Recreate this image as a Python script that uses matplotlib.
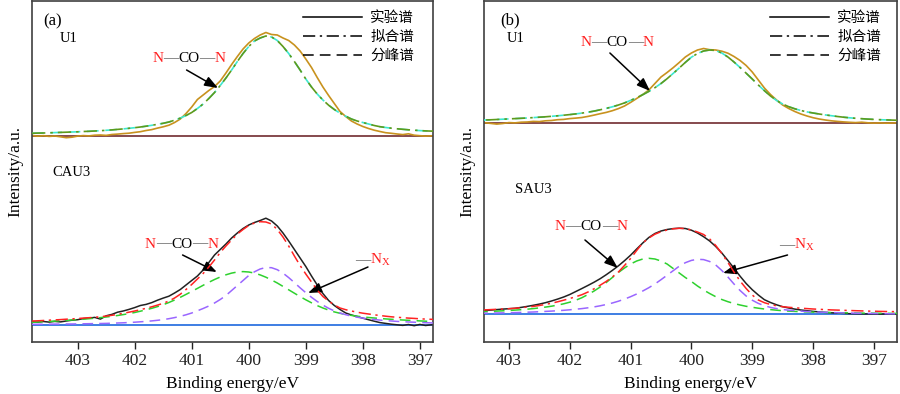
import matplotlib
matplotlib.use("Agg")
import matplotlib.pyplot as plt
from matplotlib.lines import Line2D
from matplotlib.offsetbox import TextArea, HPacker, AnnotationBbox

# ---------------- data ----------------
energy = [403.8, 403.7, 403.6, 403.5, 403.4, 403.3, 403.2, 403.1, 403.0, 402.9,
          402.8, 402.7, 402.6, 402.5, 402.4, 402.3, 402.2, 402.1, 402.0, 401.9,
          401.8, 401.7, 401.6, 401.5, 401.4, 401.3, 401.2, 401.1, 401.0, 400.9,
          400.8, 400.7, 400.6, 400.5, 400.4, 400.3, 400.2, 400.1, 400.0, 399.9,
          399.8, 399.7, 399.6, 399.5, 399.4, 399.3, 399.2, 399.1, 399.0, 398.9,
          398.8, 398.7, 398.6, 398.5, 398.4, 398.3, 398.2, 398.1, 398.0, 397.9,
          397.8, 397.7, 397.6, 397.5, 397.4, 397.3, 397.2, 397.1, 397.0, 396.9,
          396.8, 396.7, 396.6]

# panel (a): U1 (upper) and CAU3 (lower)
a_u1_exp = [206.5, 205.8, 206.3, 205.6, 206.0, 205.2, 204.3, 204.8, 205.9, 206.4,
            206.1, 206.8, 207.0, 206.6, 207.5, 207.9, 208.4, 208.8, 209.6, 210.3,
            211.5, 212.4, 213.9, 215.2, 216.8, 219.5, 223.0, 228.5, 235.0, 242.5,
            247.0, 251.5, 255.5, 261.0, 269.0, 277.5, 285.5, 293.0, 299.0, 303.5,
            307.0, 309.5, 307.5, 307.0, 304.0, 301.5, 297.0, 291.0, 283.0, 274.5,
            264.5, 255.0, 246.5, 238.5, 230.5, 225.5, 221.0, 218.0, 215.5, 213.5,
            211.8, 210.5, 209.3, 208.7, 208.0, 207.4, 208.2, 206.8, 206.3, 205.9,
            206.2, 206.0, 206.1]
a_u1_fit = [208.7, 208.9, 209.0, 209.2, 209.4, 209.6, 209.8, 210.0, 210.2, 210.5,
            210.7, 211.0, 211.3, 211.7, 212.1, 212.6, 213.1, 213.7, 214.3, 215.0,
            215.8, 216.7, 217.7, 218.7, 220.0, 221.8, 223.9, 226.5, 229.5, 233.5,
            238.0, 243.5, 249.5, 256.5, 264.0, 272.0, 280.5, 288.5, 295.5, 301.0,
            304.0, 306.0, 305.0, 301.5, 295.5, 288.5, 280.5, 272.0, 263.0, 255.0,
            248.0, 242.0, 236.8, 232.5, 228.8, 225.8, 223.0, 221.0, 219.5, 218.0,
            216.5, 215.3, 214.5, 213.8, 213.2, 212.7, 212.2, 211.8, 211.4, 211.1,
            210.9, 210.7, 210.5]
a_cau_exp = [20.3, 19.8, 20.5, 19.9, 20.6, 20.1, 21.0, 21.8, 22.3, 23.4,
             23.9, 24.6, 22.9, 26.2, 27.6, 29.8, 31.0, 32.6, 34.4, 36.5,
             37.6, 39.4, 41.8, 43.9, 45.8, 49.0, 52.5, 57.0, 61.5, 66.0,
             72.0, 79.5, 87.0, 92.5, 98.0, 104.0, 109.0, 113.5, 117.0, 119.5,
             121.5, 123.8, 121.0, 116.0, 109.0, 101.0, 92.5, 84.0, 75.5, 66.0,
             57.0, 48.5, 41.5, 36.5, 32.5, 29.0, 27.0, 25.5, 23.8, 22.3,
             20.8, 19.4, 18.6, 17.8, 17.2, 16.6, 17.5, 16.3, 17.6, 16.5,
             17.2, 17.0, 17.0]
a_cau_fit = [21.0, 21.2, 21.5, 21.8, 22.1, 22.4, 22.8, 23.1, 23.5, 23.9,
             24.3, 24.7, 25.3, 25.9, 26.7, 27.6, 28.7, 29.8, 31.0, 32.3,
             33.7, 35.2, 36.9, 38.7, 41.0, 44.0, 47.8, 52.5, 57.5, 63.0,
             68.5, 75.0, 82.0, 89.5, 96.0, 102.0, 108.0, 112.5, 116.5, 119.0,
             120.3, 120.0, 118.0, 112.5, 105.0, 96.0, 86.0, 76.5, 68.0, 60.0,
             52.0, 45.5, 41.0, 37.0, 34.0, 32.3, 31.0, 29.8, 28.8, 28.0,
             27.2, 26.5, 25.8, 25.2, 24.7, 24.3, 23.9, 23.6, 23.2, 22.9,
             22.7, 22.5, 22.3]
a_peak_nco = [19.7, 20.0, 20.3, 20.6, 20.9, 21.2, 21.6, 22.0, 22.4, 22.8,
              23.3, 23.8, 24.4, 25.0, 25.7, 26.5, 27.4, 28.4, 29.5, 30.8,
              32.2, 33.7, 35.4, 37.3, 39.5, 42.0, 44.7, 47.6, 50.6, 53.6,
              56.7, 59.7, 62.5, 65.0, 67.2, 68.9, 70.0, 70.4, 70.0, 68.9,
              67.1, 64.8, 62.0, 59.0, 55.6, 52.2, 48.8, 45.4, 42.2, 39.2,
              36.4, 34.0, 31.9, 30.1, 28.7, 27.5, 26.6, 25.8, 25.1, 24.5,
              24.0, 23.5, 23.1, 22.7, 22.3, 22.0, 21.7, 21.4, 21.1, 20.8,
              20.6, 20.4, 20.2]
a_peak_nx = [17.7, 17.7, 17.8, 17.8, 17.9, 17.9, 18.0, 18.0, 18.1, 18.2,
             18.3, 18.4, 18.5, 18.6, 18.8, 19.0, 19.2, 19.5, 19.8, 20.2,
             20.6, 21.1, 21.7, 22.4, 23.3, 24.4, 25.7, 27.2, 29.0, 31.2,
             33.5, 36.0, 39.0, 42.5, 46.5, 51.5, 56.5, 61.5, 66.5, 70.2,
             73.0, 74.5, 74.3, 72.3, 68.9, 64.4, 59.4, 54.2, 49.3, 44.7,
             40.5, 36.9, 33.7, 31.1, 29.0, 27.3, 25.9, 24.8, 23.9, 23.1,
             22.5, 21.9, 21.4, 21.0, 20.6, 20.3, 20.0, 19.8, 19.5, 19.3,
             19.1, 18.9, 18.8]
a_baselines = [206.0, 17.0]

# panel (b): U1 (upper) and SAU3 (lower)
b_u1_exp = [219.2, 218.8, 219.4, 219.0, 219.3, 218.6, 217.9, 218.5, 219.4, 219.1,
            219.8, 220.0, 220.6, 220.4, 221.2, 221.5, 222.3, 222.6, 223.4, 223.9,
            224.5, 225.6, 226.9, 228.3, 229.6, 231.3, 233.4, 236.0, 239.6, 243.5,
            247.5, 252.0, 258.5, 265.0, 269.5, 274.3, 279.5, 285.0, 289.0, 292.0,
            293.5, 292.3, 292.0, 290.8, 288.8, 285.5, 281.5, 276.5, 270.0, 262.0,
            254.0, 247.5, 242.0, 237.0, 233.5, 230.5, 228.0, 226.0, 224.3, 223.0,
            222.0, 221.2, 220.6, 220.1, 219.7, 219.4, 219.8, 219.2, 218.9, 219.1,
            218.8, 219.0, 219.2]
b_u1_fit = [221.0, 221.2, 221.5, 221.7, 222.0, 222.2, 222.5, 222.8, 223.1, 223.4,
            223.7, 224.0, 224.4, 224.8, 225.2, 225.7, 226.2, 226.8, 227.4, 228.1,
            228.9, 229.8, 230.9, 232.2, 233.6, 235.2, 237.0, 239.1, 241.6, 244.3,
            247.3, 250.6, 254.3, 258.5, 263.3, 268.6, 274.0, 279.6, 284.8, 288.5,
            291.0, 292.0, 291.5, 289.0, 285.0, 280.0, 274.5, 268.8, 263.0, 257.0,
            251.3, 246.0, 241.5, 238.0, 235.3, 233.2, 231.5, 230.1, 229.0, 228.0,
            227.1, 226.3, 225.5, 224.8, 224.2, 223.7, 223.3, 222.9, 222.6, 222.3,
            222.1, 221.9, 221.7]
b_sau_exp = [30.2, 30.5, 30.8, 31.1, 31.4, 31.9, 32.4, 32.9, 33.3, 33.7,
             34.6, 35.6, 36.7, 37.9, 39.3, 41.0, 42.9, 45.0, 47.5, 50.5,
             53.5, 56.6, 59.8, 63.3, 67.3, 71.6, 76.2, 81.3, 86.8, 93.0,
             99.0, 104.5, 108.5, 111.0, 112.5, 113.4, 113.8, 113.5, 111.8, 109.0,
             105.3, 101.0, 95.5, 89.0, 81.5, 73.8, 65.8, 58.5, 52.3, 47.0,
             42.3, 39.5, 37.2, 35.3, 34.0, 32.9, 32.0, 31.3, 30.6, 30.1,
             29.6, 29.2, 28.9, 28.6, 28.3, 28.2, 28.1, 28.0, 28.0, 27.9,
             27.9, 27.9, 27.8]
b_sau_fit = [31.3, 31.5, 31.7, 31.9, 32.1, 32.4, 32.7, 33.0, 33.3, 33.7,
             34.3, 34.9, 35.6, 36.5, 37.6, 38.8, 40.2, 41.8, 43.5, 45.3,
             47.3, 50.0, 53.2, 56.8, 60.6, 65.0, 70.0, 76.5, 83.5, 91.5,
             99.0, 104.0, 107.8, 110.3, 112.0, 113.2, 113.7, 113.4, 112.0, 110.0,
             107.5, 103.0, 96.5, 88.5, 79.5, 70.0, 61.0, 53.5, 47.0, 42.0,
             39.3, 37.5, 36.2, 35.3, 34.7, 34.2, 33.8, 33.4, 33.0, 32.7,
             32.4, 32.1, 31.9, 31.7, 31.5, 31.3, 31.1, 30.9, 30.8, 30.6,
             30.5, 30.4, 30.3]
b_peak_nco = [29.6, 29.8, 30.0, 30.2, 30.4, 30.6, 30.9, 31.2, 31.5, 31.9,
              32.3, 32.8, 33.4, 34.1, 34.9, 35.8, 36.9, 38.2, 39.8, 41.8,
              44.3, 47.5, 51.0, 55.0, 59.5, 64.5, 69.5, 74.0, 78.0, 81.0,
              83.0, 83.7, 83.0, 81.0, 78.0, 73.5, 69.0, 64.5, 60.5, 56.0,
              52.0, 48.5, 45.3, 42.5, 40.3, 38.5, 37.0, 35.7, 34.7, 33.8,
              33.0, 32.4, 31.8, 31.3, 30.9, 30.6, 30.3, 30.1, 29.9, 29.7,
              29.5, 29.4, 29.3, 29.2, 29.1, 29.0, 28.9, 28.8, 28.8, 28.7,
              28.7, 28.6, 28.6]
b_peak_nx = [28.5, 28.5, 28.6, 28.7, 28.8, 28.9, 29.0, 29.1, 29.2, 29.4,
             29.6, 29.8, 30.0, 30.3, 30.6, 30.9, 31.3, 31.7, 32.2, 32.8,
             33.4, 34.2, 35.1, 36.2, 37.5, 39.0, 40.8, 42.9, 45.3, 48.0,
             51.0, 54.3, 58.0, 62.3, 66.8, 71.3, 75.8, 79.3, 81.6, 82.7,
             82.4, 80.5, 77.0, 71.5, 65.0, 58.0, 51.5, 46.0, 41.8, 38.6,
             36.3, 34.6, 33.4, 32.5, 31.8, 31.3, 30.9, 30.5, 30.2, 29.9,
             29.7, 29.5, 29.3, 29.1, 29.0, 28.8, 28.7, 28.6, 28.5, 28.4,
             28.3, 28.2, 28.1]
b_baselines = [219.0, 27.7]

xticks = [403, 402, 401, 400, 399, 398, 397]
legend_labels = ["实验谱", "拟合谱", "分峰谱"]

# ---------------- style ----------------
plt.rcParams["font.family"] = ["Liberation Serif", "Noto Sans CJK SC"]
plt.rcParams["mathtext.fontset"] = "custom"
plt.rcParams["mathtext.rm"] = "Liberation Serif"

C_U1 = "#c8921e"
C_FIT_U1 = "#5e9a1c"
C_COMP_U1 = "#3de8cf"
C_BASE_U1 = "#7c3b3f"
C_EXP = "#222222"
C_FIT = "#ff2222"
C_NCO = "#2ed12e"
C_NX = "#9a66ff"
C_BASE = "#2f74e0"
DASH = (0, (7, 4))
DASHDOT = (0, (8, 3, 1.5, 3))

fig = plt.figure(figsize=(9.0, 3.94), dpi=100)
ax_a = fig.add_axes([32 / 900, 52 / 394, 401 / 900, 341 / 394])
ax_b = fig.add_axes([484 / 900, 52 / 394, 413 / 900, 341 / 394])


def chem_label(ax, x, y, parts, fs=11):
    areas = [TextArea(t, textprops=dict(color=c, fontsize=fs)) for t, c in parts]
    box = HPacker(children=areas, align="baseline", pad=0, sep=0)
    ab = AnnotationBbox(box, (x, y), xycoords="data", frameon=False,
                        box_alignment=(0.5, 0.5), pad=0)
    ax.add_artist(ab)


def arrow(ax, tip, tail):
    ax.annotate("", xy=tip, xytext=tail, xycoords="data", textcoords="data",
                arrowprops=dict(arrowstyle="-|>,head_length=0.8,head_width=0.3",
                                color="black", lw=1.1, shrinkA=0, shrinkB=0))


NCO = [("N", "#ff2020"), ("—", "#666666"), ("CO", "black"), ("—", "#666666"), ("N", "#ff2020")]
NX = [("—", "#666666"), (r"$\mathregular{N_X}$", "#ff2020")]


def panel(ax, u1_exp, u1_fit, exp, fit, p1, p2, bases, xlim, tag, sample,
          pos):
    ax.axhline(bases[0], color=C_BASE_U1, lw=1.3, zorder=1)
    ax.axhline(bases[1], color=C_BASE, lw=1.3, zorder=1)
    ax.plot(energy, u1_exp, color=C_U1, lw=1.2, zorder=2)
    ax.plot(energy, u1_fit, color=C_COMP_U1, lw=1.2, ls=DASH, zorder=3)
    ax.plot(energy, u1_fit, color=C_FIT_U1, lw=1.2, ls=DASHDOT, zorder=4)
    ax.plot(energy, exp, color=C_EXP, lw=1.1, zorder=2)
    ax.plot(energy, p1, color=C_NCO, lw=1.1, ls=DASH, zorder=3)
    ax.plot(energy, p2, color=C_NX, lw=1.1, ls=DASH, zorder=3)
    ax.plot(energy, fit, color=C_FIT, lw=1.1, ls=DASHDOT, zorder=4)

    ax.set_xlim(*xlim)
    ax.set_ylim(0, 341)
    ax.set_xticks(xticks)
    ax.set_xticklabels([str(t) for t in xticks])
    ax.set_yticks([])
    ax.tick_params(axis="x", direction="out", length=5, width=1.0,
                   labelsize=12.5, colors="#222222", pad=3)
    for s in ax.spines.values():
        s.set_color("#404040")
        s.set_linewidth(1.2)
    ax.set_xlabel("Binding energy/eV", fontsize=12.5, labelpad=5)
    ax.set_ylabel("Intensity/a.u.", fontsize=12.5, labelpad=6)

    ax.text(pos["tag"][0], pos["tag"][1], tag, transform=ax.transAxes,
            fontsize=12, va="center", ha="left")
    ax.text(pos["u1"][0], pos["u1"][1], "U1", transform=ax.transAxes,
            fontsize=10.5, va="center", ha="left")
    ax.text(pos["s"][0], pos["s"][1], sample, transform=ax.transAxes,
            fontsize=10.5, va="center", ha="left")

    chem_label(ax, *pos["nco1"], NCO)
    arrow(ax, pos["a1_tip"], pos["a1_tail"])
    chem_label(ax, *pos["nco2"], NCO)
    arrow(ax, pos["a2_tip"], pos["a2_tail"])
    chem_label(ax, *pos["nx"], NX)
    arrow(ax, pos["a3_tip"], pos["a3_tail"])

    handles = [Line2D([], [], color="black", lw=1.1, ls="-"),
               Line2D([], [], color="black", lw=1.1, ls=DASHDOT),
               Line2D([], [], color="black", lw=1.1, ls=DASH)]
    ax.legend(handles, legend_labels, loc="upper right", frameon=False,
              fontsize=10.5, handlelength=4.0, handletextpad=0.6,
              labelspacing=0.38, borderaxespad=0.2,
              bbox_to_anchor=(pos["leg_x"], 0.995))


pos_a = dict(tag=(0.027, 0.94), u1=(0.07, 0.89), s=(0.05, 0.496),
             nco1=(401.05, 283), a1_tip=(400.54, 254), a1_tail=(401.09, 272),
             nco2=(401.18, 98), a2_tip=(400.56, 70), a2_tail=(401.16, 87),
             nx=(397.82, 82), a3_tip=(398.96, 49), a3_tail=(397.91, 75),
             leg_x=0.975)
pos_b = dict(tag=(0.039, 0.944), u1=(0.056, 0.89), s=(0.075, 0.446),
             nco1=(401.22, 299), a1_tip=(400.68, 251), a1_tail=(401.34, 289),
             nco2=(401.65, 115), a2_tip=(401.21, 74), a2_tail=(401.75, 102),
             nx=(398.27, 97), a3_tip=(399.48, 69), a3_tail=(398.42, 87),
             leg_x=0.983)

panel(ax_a, a_u1_exp, a_u1_fit, a_cau_exp, a_cau_fit, a_peak_nco, a_peak_nx,
      a_baselines, (403.8, 396.77), "(a)", "CAU3", pos_a)
panel(ax_b, b_u1_exp, b_u1_fit, b_sau_exp, b_sau_fit, b_peak_nco, b_peak_nx,
      b_baselines, (403.41, 396.62), "(b)", "SAU3", pos_b)

fig.savefig("out.png", dpi=100)
